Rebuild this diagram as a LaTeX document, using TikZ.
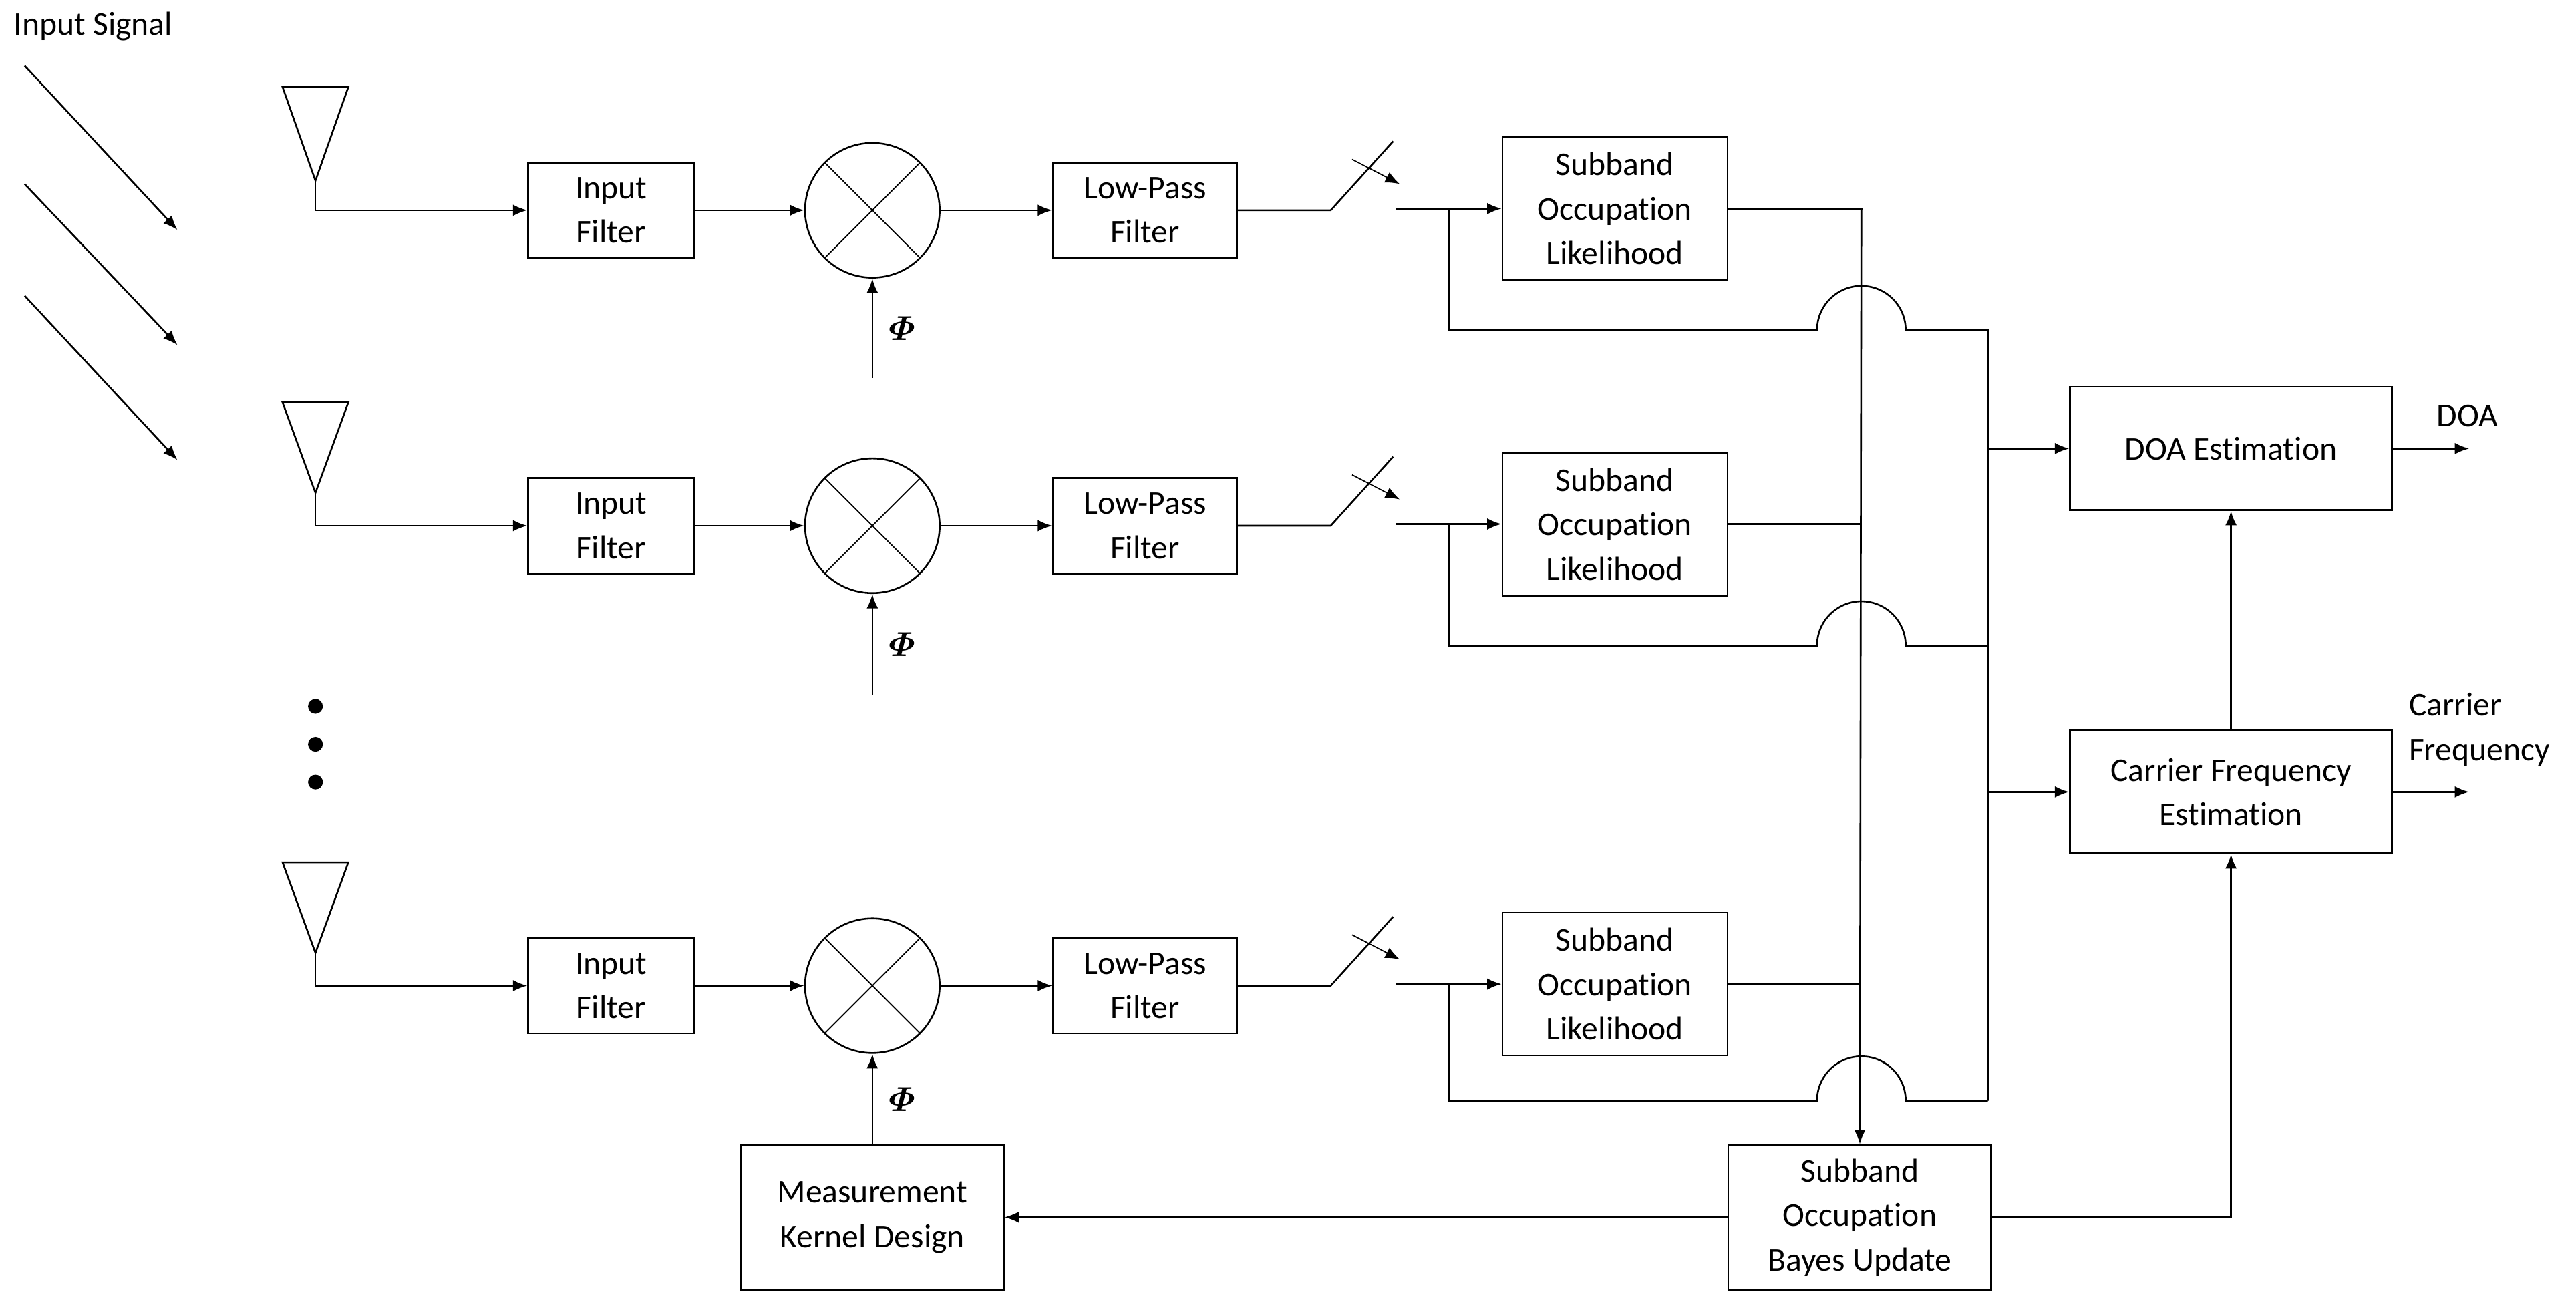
\documentclass[tikz,border=0pt]{standalone}
\usepackage{amsmath}
\usepackage{fontspec}
\setmainfont{Carlito}[Ligatures={NoCommon,NoRequired,NoContextual}]
\usetikzlibrary{arrows.meta}

\newcommand{\phisym}{$\boldsymbol{\varPhi}$}

\begin{document}
\begin{tikzpicture}[x=0.02cm,y=-0.02cm,line width=0.6pt,
    font=\fontsize{11.5}{15.4}\selectfont,
    >={Latex[length=5pt,width=4pt]},
    block/.style={draw,align=center,inner sep=0pt},
    mixer/.style={draw,circle,minimum size=1.64cm,inner sep=0pt,path picture={
        \draw[line width=0.4pt] (path picture bounding box.north west)--(path picture bounding box.south east)
          (path picture bounding box.north east)--(path picture bounding box.south west);}},
    ant/.style={line width=0.6pt},
    philabel/.style={right=2pt,font=\fontsize{13}{15}\selectfont}]
	\useasboundingbox (0,0) rectangle (1568,796);

	\node[anchor=west] (sig) at (2,16) {Input Signal};
	\draw[->] (15,40) -- (108,140);
	\draw[->] (15,112) -- (108,210);
	\draw[->] (15,180) -- (108,280);

	% antennas
	\draw[ant] (172,53) -- (212,53) -- (192,110) -- cycle;
	\draw[ant] (172,245) -- (212,245) -- (192,300) -- cycle;
	\draw[ant] (172,525) -- (212,525) -- (192,580) -- cycle;
	\coordinate (a1) at (192,110);
	\coordinate (a2) at (192,300);
	\coordinate (a3) at (192,580);
	\fill (192,430) circle (4.5) (192,453) circle (4.5) (192,476) circle (4.5);

	% blocks
	\node[block,minimum width=2.02cm,minimum height=1.16cm] (if1) at (372,128) {Input\\Filter};
	\node[block,minimum width=2.02cm,minimum height=1.16cm] (if2) at (372,320) {Input\\Filter};
	\node[block,minimum width=2.02cm,minimum height=1.16cm] (if3) at (372,600) {Input\\Filter};
	\node[mixer] (m1) at (531,128) {};
	\node[mixer] (m2) at (531,320) {};
	\node[mixer] (m3) at (531,600) {};
	\node[block,minimum width=2.24cm,minimum height=1.16cm] (lp1) at (697,128) {Low-Pass\\Filter};
	\node[block,minimum width=2.24cm,minimum height=1.16cm] (lp2) at (697,320) {Low-Pass\\Filter};
	\node[block,minimum width=2.24cm,minimum height=1.16cm] (lp3) at (697,600) {Low-Pass\\Filter};
	\node[block,minimum width=2.74cm,minimum height=1.74cm] (sl1) at (983,127) {Subband\\Occupation\\Likelihood};
	\node[block,minimum width=2.74cm,minimum height=1.74cm] (sl2) at (983,319) {Subband\\Occupation\\Likelihood};
	\node[block,minimum width=2.74cm,minimum height=1.74cm] (sl3) at (983,599) {Subband\\Occupation\\Likelihood};
	\node[block,minimum width=3.92cm,minimum height=1.5cm] (doa) at (1358,273) {DOA Estimation};
	\node[block,minimum width=3.92cm,minimum height=1.5cm] (cfe) at (1358,482) {Carrier Frequency\\Estimation};
	\node[block,minimum width=3.2cm,minimum height=1.76cm] (bay) at (1132,741) {Subband\\Occupation\\Bayes Update};
	\node[block,minimum width=3.2cm,minimum height=1.76cm] (mkd) at (531,741) {Measurement\\Kernel Design};

	% front end
	\draw[->] (a1) |- (if1);
	\draw[->] (a2) |- (if2);
	\draw[->] (a3) |- (if3);
	\draw[->] (if1) -- (m1);
	\draw[->] (if2) -- (m2);
	\draw[->] (if3) -- (m3);
	\draw[->] (m1) -- (lp1);
	\draw[->] (m2) -- (lp2);
	\draw[->] (m3) -- (lp3);
	\coordinate (p1) at (531,230);
	\coordinate (p2) at (531,423);
	\draw[->] (p1) -- node[philabel]{\phisym} (m1);
	\draw[->] (p2) -- node[philabel]{\phisym} (m2);
	\draw[->] (mkd) -- node[philabel]{\phisym} (m3);

	% switches
	\draw (lp1) -- (810,128) -- (848,86);
	\draw (lp2) -- (810,320) -- (848,278);
	\draw (lp3) -- (810,600) -- (848,558);
	\draw[->,line width=0.4pt] (823,97) -- (852,112);
	\draw[->,line width=0.4pt] (823,289) -- (852,304);
	\draw[->,line width=0.4pt] (823,569) -- (852,584);
	\coordinate (s1) at (850,127);
	\coordinate (s2) at (850,319);
	\coordinate (s3) at (850,599);
	\draw[->] (s1) -- (sl1);
	\draw[->] (s2) -- (sl2);
	\draw[->] (s3) -- (sl3);

	% bypass lines with hops
	\draw (882,127) -- (882,201) -- (1106,201) arc (180:360:27) -- (1210,201) -- (1210,670);
	\draw (882,319) -- (882,393) -- (1106,393) arc (180:360:27) -- (1210,393);
	\draw (882,599) -- (882,670) -- (1106,670) arc (180:360:27) -- (1210,670);
	\coordinate (j1) at (1210,273);
	\coordinate (j2) at (1210,482);
	\draw[->] (j1) -- (doa);
	\draw[->] (j2) -- (cfe);

	% likelihood bus
	\draw (sl1) -| (1133,128);
	\draw (sl2) -- (1133,319);
	\draw (sl3) -- (1133,599);
	\draw[->] (1133,127) -- (bay);

	\draw[->] (bay) -- (mkd);
	\draw[->] (bay.east) -| (cfe.south);
	\draw[->] (cfe) -- (doa);

	\coordinate (o1) at (1503,273);
	\coordinate (o2) at (1503,482);
	\draw[->] (doa) -- (o1);
	\draw[->] (cfe) -- (o2);
	\node[anchor=south] (doal) at (1502,266) {DOA};
	\node[anchor=west,align=left] (cfl) at (1460,444) {Carrier\\Frequency};
\end{tikzpicture}
\end{document}
